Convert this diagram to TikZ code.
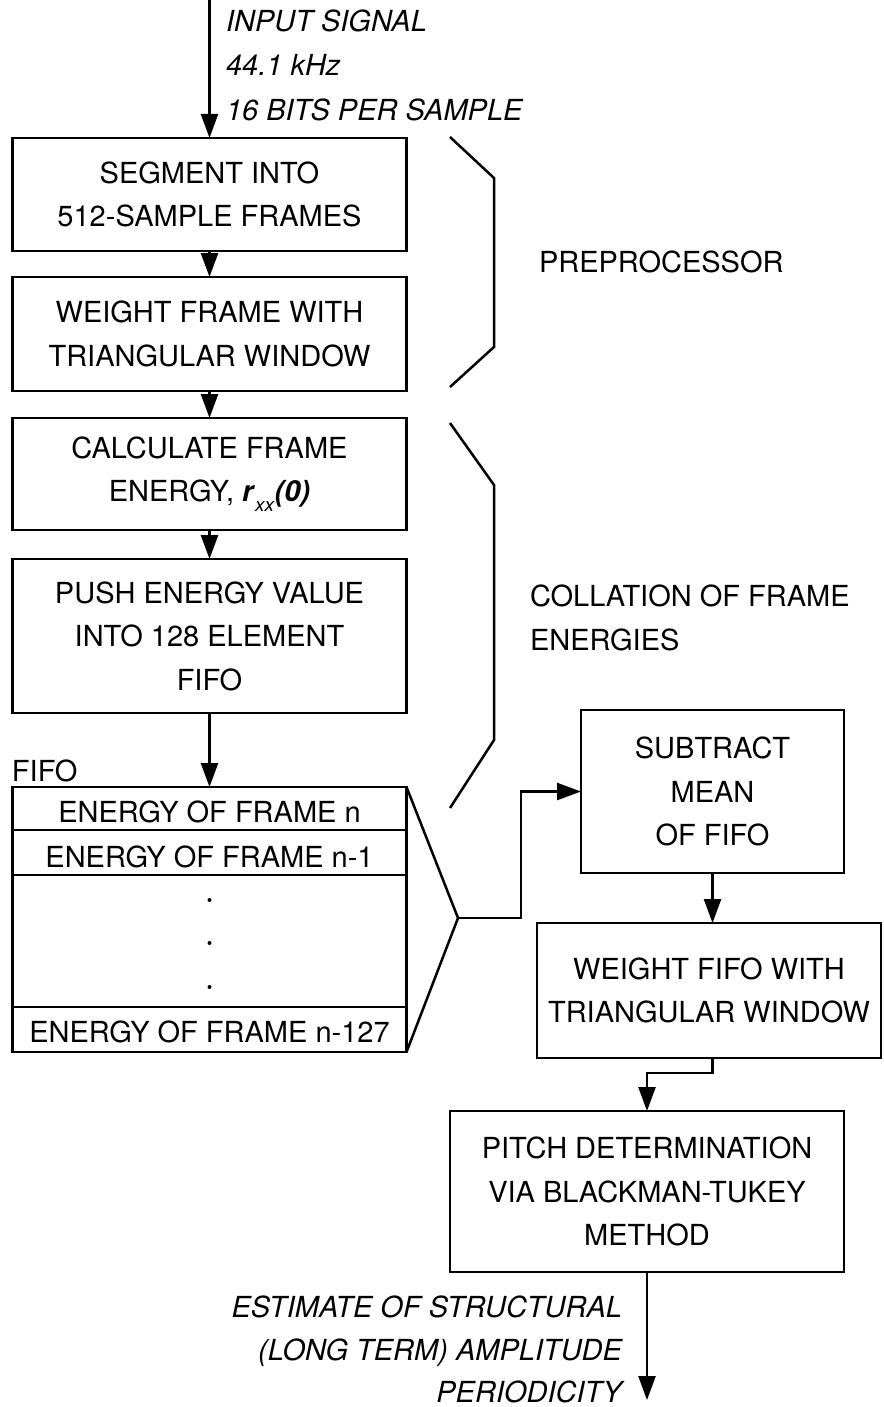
\documentclass[tikz,border=0pt]{standalone}
\usepackage{fontspec}
\setmainfont{TeX Gyre Heros}
\usetikzlibrary{arrows.meta}
\newcommand{\rxxzero}{\textbf{\textit{r}}\raisebox{-0.32em}{\fontsize{19}{19}\selectfont\textit{xx}}\textbf{\textit{(0)}}}
\begin{document}
\begin{tikzpicture}[x=1pt,y=-1pt,
  line width=2.5pt,
  every node/.style={font=\fontsize{29}{43.5}\selectfont, inner sep=0pt, outer sep=0pt},
  stepbox/.style={draw, line width=2.5pt, align=center},
  arr/.style={-{Triangle[length=24pt,width=17pt]}, line width=2.5pt},
  lbl/.style={font=\fontsize{29}{43.5}\selectfont\itshape},
  dotmark/.style={circle, fill, minimum size=4pt},
]
\useasboundingbox (0,0) rectangle (883,1407);

% input signal
\coordinate (src) at (209.5,0);
\node[lbl, anchor=base west] (in1) at (226,31.5) {INPUT SIGNAL};
\node[lbl, anchor=base west] (in2) at (226,75.5) {44.1 kHz};
\node[lbl, anchor=base west] (in3) at (226,120.5) {16 BITS PER SAMPLE};

% preprocessing chain
\node[stepbox, minimum width=394pt, minimum height=113pt] (seg) at (209.5,194.5)
  {SEGMENT INTO\\512-SAMPLE FRAMES};
\node[stepbox, minimum width=394pt, minimum height=114pt] (wfr) at (209.5,334)
  {WEIGHT FRAME WITH\\TRIANGULAR WINDOW};
\node[stepbox, minimum width=394pt, minimum height=112pt] (cal) at (209.5,474)
  {CALCULATE FRAME\\ENERGY, \rxxzero};
\node[stepbox, minimum width=394pt, minimum height=154pt] (push) at (209.5,636)
  {PUSH ENERGY VALUE\\INTO 128 ELEMENT\\FIFO};

% FIFO table
\node[anchor=base west] (fifolbl) at (12,781) {FIFO};
\node[draw, line width=2.5pt, minimum width=394pt, minimum height=265pt] (fifo) at (209.5,919.5) {};
\draw (12.5,830) -- (406.5,830);
\draw (12.5,875) -- (406.5,875);
\draw (12.5,1007) -- (406.5,1007);
\node (row1) at (209.5,812) {ENERGY OF FRAME n};
\node (row2) at (209.5,857) {ENERGY OF FRAME n-1};
\node[dotmark] (dot1) at (209.5,900) {};
\node[dotmark] (dot2) at (209.5,943) {};
\node[dotmark] (dot3) at (209.5,987) {};
\node (row3) at (209.5,1032) {ENERGY OF FRAME n-127};

% group labels and brackets
\node[anchor=base west] (pre) at (539,272.5) {PREPROCESSOR};
\node[anchor=west, align=left] (coll) at (530,618) {COLLATION OF FRAME\\ENERGIES};
\draw (450,137) -- (494,178) -- (494,347) -- (450,387);
\draw (450,423) -- (494,485) -- (494,740) -- (450,808);

% post-processing chain
\node[stepbox, minimum width=263pt, minimum height=163pt] (sub) at (712.5,791.5)
  {SUBTRACT\\MEAN\\OF FIFO};
\node[stepbox, minimum width=344pt, minimum height=135pt] (wfifo) at (709,990.5)
  {WEIGHT FIFO WITH\\TRIANGULAR WINDOW};
\node[stepbox, minimum width=394pt, minimum height=161pt] (pitch) at (647,1191.5)
  {PITCH DETERMINATION\\VIA BLACKMAN-TUKEY\\METHOD};

% output
\coordinate (out) at (647,1400);
\node[lbl, anchor=base east] (out1) at (622,1317.5) {ESTIMATE OF STRUCTURAL};
\node[lbl, anchor=base east] (out2) at (622,1360.5) {(LONG TERM) AMPLITUDE};
\node[lbl, anchor=base east] (out3) at (622,1402.5) {PERIODICITY};

% connectors
\draw[arr] (src) -- (seg.north);
\draw[arr] (seg.south) -- (wfr.north);
\draw[arr] (wfr.south) -- (cal.north);
\draw[arr] (cal.south) -- (push.south |- cal.south) -- (push.north);
\draw[arr] (push.south) -- (fifo.north);

\coordinate (apex) at (458,918);
\coordinate (bend1) at (521,918);
\draw (fifo.north east) -- (apex) -- (fifo.south east);
\draw[arr] (apex) -- (bend1) |- (sub.west);
\draw[arr] (sub.south) -- (sub.south |- wfifo.north);
\coordinate (w1) at (712.5,1073);
\draw[arr] (wfifo.south -| w1) -- (w1) -| (pitch.north);
\draw[arr] (pitch.south) -- (out);
\end{tikzpicture}
\end{document}
